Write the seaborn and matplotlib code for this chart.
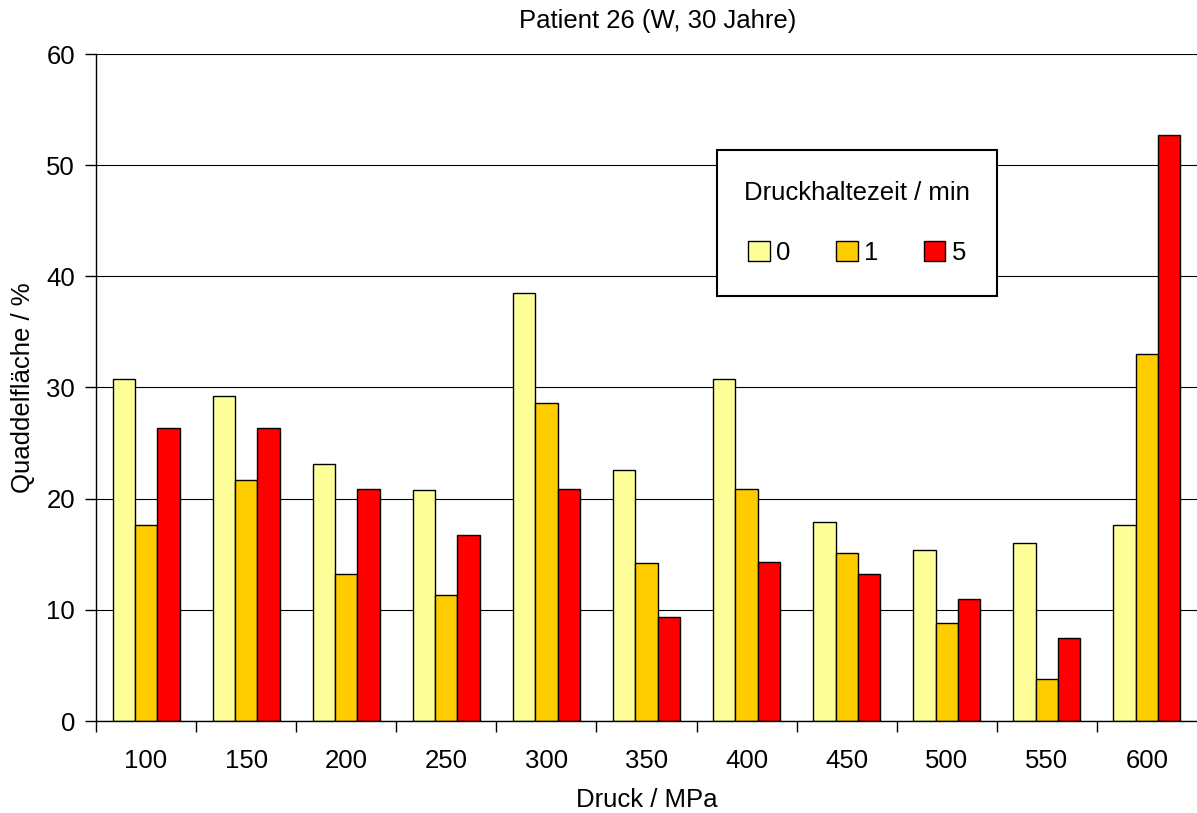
import matplotlib
matplotlib.use("Agg")
import matplotlib.pyplot as plt
import numpy as np
import pandas as pd
import seaborn as sns

# Pressure levels (MPa) and hold times (min)
pressures = ["100", "150", "200", "250", "300", "350", "400", "450", "500", "550", "600"]
hold_times = ["0", "1", "5"]

# Wheal area (%) per hold time
area_0min = [30.8, 29.2, 23.1, 20.8, 38.5, 22.6, 30.8, 17.9, 15.4, 16.0, 17.6]
area_1min = [17.6, 21.7, 13.2, 11.3, 28.6, 14.2, 20.9, 15.1, 8.8, 3.8, 33.0]
area_5min = [26.4, 26.4, 20.9, 16.7, 20.9, 9.4, 14.3, 13.2, 11.0, 7.5, 52.7]

colors = ["#FFFF99", "#FFCC00", "#FF0000"]

df = pd.DataFrame({
    "Druck": pressures * 3,
    "Zeit": [hold_times[0]] * 11 + [hold_times[1]] * 11 + [hold_times[2]] * 11,
    "Flaeche": area_0min + area_1min + area_5min,
})

sns.set_theme(style="white")
plt.rcParams["font.family"] = ["Liberation Sans", "DejaVu Sans"]
plt.rcParams["text.color"] = "black"
plt.rcParams["axes.labelcolor"] = "black"
FS = 18.5

fig = plt.figure(figsize=(11.97, 8.13), dpi=100)
ax = fig.add_axes([96 / 1197, 92 / 813, 1101 / 1197, 667 / 813])

sns.barplot(
    data=df, x="Druck", y="Flaeche", hue="Zeit",
    order=pressures, hue_order=hold_times, palette=colors,
    width=0.67, edgecolor="black", linewidth=1.0, saturation=1.0,
    errorbar=None, ax=ax,
)

ax.set_xlim(-0.5, 10.5)
ax.set_ylim(0, 60)
ax.set_yticks(np.arange(0, 61, 10))
ax.set_axisbelow(True)
ax.yaxis.grid(True, color="black", linewidth=0.8)
ax.xaxis.grid(False)

for side in ["top", "right"]:
    ax.spines[side].set_visible(False)
for side in ["left", "bottom"]:
    ax.spines[side].set_color("black")
    ax.spines[side].set_linewidth(1.0)

# Category labels without ticks; tick marks at the group boundaries
ax.set_xticks(range(len(pressures)))
ax.set_xticklabels(pressures)
ax.tick_params(axis="x", which="major", length=0, pad=20, labelsize=FS, colors="black")
ax.set_xticks(np.arange(-0.5, len(pressures) - 0.5, 1.0), minor=True)
ax.tick_params(axis="x", which="minor", length=8, width=1, direction="out",
               color="black", bottom=True)
ax.tick_params(axis="y", length=8, width=1, direction="out", pad=7,
               labelsize=FS, colors="black", left=True)

ax.set_xlabel("Druck / MPa", fontsize=FS, color="black")
ax.xaxis.set_label_coords(0.5, (721 - 800) / 667)
ax.xaxis.label.set_verticalalignment("center")
ax.set_ylabel("Quaddelfläche / %", fontsize=FS, color="black")
ax.yaxis.set_label_coords((23 - 96) / 1101, 0.5)
ax.yaxis.label.set_verticalalignment("center")

ax.set_title("Patient 26 (W, 30 Jahre)", fontsize=FS, color="black",
             x=(658 - 96) / 1101, y=1 + (54 - 21) / 667, va="center", pad=0)

handles, labels = ax.get_legend_handles_labels()
leg = ax.legend(
    handles, labels, title="Druckhaltezeit / min", ncol=3,
    loc="upper left",
    bbox_to_anchor=(717 / 1197, 1 - 295 / 813, 280 / 1197, 145 / 813),
    bbox_transform=fig.transFigure, borderaxespad=0, mode="expand",
    fontsize=FS, title_fontsize=FS, frameon=True, fancybox=False,
    shadow=False, edgecolor="black", framealpha=1,
    handlelength=0.85, handleheight=0.85, handletextpad=0.25,
    columnspacing=2.1, labelspacing=1.4, borderpad=1.2,
)
leg.get_frame().set_linewidth(1.5)
for t in leg.get_texts():
    t.set_color("black")
leg.get_title().set_color("black")

fig.savefig("out.png", dpi=100)
